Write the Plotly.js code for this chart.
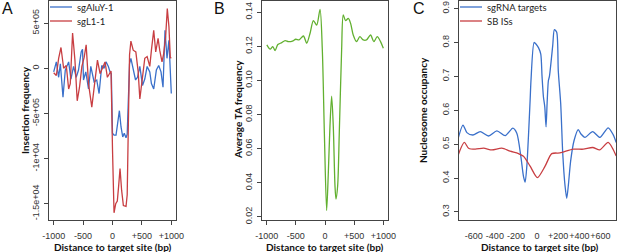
<!DOCTYPE html>
<html><head><meta charset="utf-8">
<script src="https://cdn.plot.ly/plotly-3.0.1.min.js"></script>
<style>html,body{margin:0;padding:0;background:#fff}#chart{width:617px;height:252px}</style>
</head><body><div id="chart"></div>
<script>
// Panel A: insertion frequency
const aluX = [-1000,-955,-916,-887,-842,-803,-746,-707,-662,-617,-578,-532,-510,-493,-454,-408,-369,-313,-268,-228,-183,-144,-110,-70,-42,-20,0,26,60,90,117,145,174,200,230,250,270,290,313,352,392,425,465,510,549,589,634,662,701,746,786,825,859,893,927,960,1000];
const aluY = [-0.4,0.7,-1.0,0.5,-3.2,-0.2,0.7,-1.2,0.2,-1.0,-0.2,1.8,2.1,-1.3,-0.4,-2.3,0.2,-1.5,-1.3,-2.8,0.3,0,0.7,0.2,-0.4,-0.6,-7.2,-7.4,-7.4,-6.0,-4.7,-6.5,-7.6,-7.2,-7.7,-7.3,-3.0,0.5,1.1,-0.2,-1.3,-1.0,0.2,-1.9,-1.2,0.2,-0.4,-1.7,-2.3,-0.2,0.3,-0.4,-2.1,4.2,1.1,3.1,-2.8];
const l1X = [-1000,-955,-916,-876,-831,-786,-746,-718,-679,-639,-600,-561,-521,-482,-448,-408,-352,-307,-256,-211,-166,-127,-87,-42,-25,0,26,55,82,105,128,155,185,230,250,270,290,313,352,397,437,465,510,549,589,634,662,701,735,775,803,842,870,904,932,960,983,1000];
const l1Y = [-0.5,-0.8,1.1,2.3,0,0.3,-2.3,-1.7,3.9,0.9,-3.6,-2.1,0.2,1.2,2.6,-1.7,-4.3,-1.7,0.9,-0.6,0.2,0.7,-1.0,-0.4,-0.3,-9,-16.0,-15.0,-14.7,-13.0,-11.1,-13.5,-15.2,-15.3,-14.0,-6.0,1.5,3.0,2.0,1.8,-0.4,-3.4,-0.8,1.1,1.3,0.2,2.0,4.2,1.8,3.3,2.0,0.7,1.6,3.5,6.6,4.6,1.2,1.1];
const aYTickVals = [5,0,-5,-10,-15];
const aYTickText = ["5e+05","0","-5e+05","-1e+04","-1.5e+04"];

// Panel B: average TA frequency
const taX = [-997,-940,-895,-855,-809,-741,-684,-627,-558,-501,-444,-370,-313,-256,-199,-142,-85,-46,-11,28,57,85,114,142,171,188,217,245,285,313,353,399,439,484,541,598,655,712,781,838,895,952,1000];
const taY = [0.1208,0.1183,0.1198,0.1175,0.121,0.1221,0.1233,0.1227,0.123,0.1241,0.1237,0.126,0.1218,0.1276,0.135,0.1324,0.1416,0.1179,0.0693,0.0237,0.046,0.0732,0.0907,0.0732,0.0383,0.0305,0.0383,0.0693,0.1179,0.1383,0.135,0.1363,0.1334,0.1266,0.1227,0.1256,0.1237,0.1237,0.1266,0.1227,0.1256,0.1227,0.1188];
const bYTickVals = [0.02,0.04,0.06,0.08,0.10,0.12,0.14];
const bYTickText = ["0.02","0.04","0.06","0.08","0.10","0.12","0.14"];

// Panel C: nucleosome occupancy
const sgX = [-750,-702,-665,-608,-539,-460,-381,-302,-230,-192,-154,-129,-113,-97,-82,-66,-57,-28,-9,13,35,47,60,73,85,95,107,117,148,164,186,201,224,243,265,281,296,318,350,390,416,454,527,595,674,721,750];
const sgY = [0.515,0.556,0.534,0.527,0.537,0.524,0.539,0.525,0.547,0.532,0.464,0.405,0.388,0.435,0.522,0.629,0.692,0.80,0.795,0.785,0.766,0.70,0.64,0.61,0.551,0.62,0.687,0.70,0.79,0.838,0.83,0.716,0.619,0.474,0.377,0.340,0.377,0.45,0.51,0.543,0.53,0.52,0.537,0.52,0.548,0.528,0.505];
const sbX = [-750,-690,-649,-586,-507,-428,-334,-255,-177,-129,-66,3,76,139,217,343,438,527,595,674,750];
const sbY = [0.466,0.505,0.488,0.485,0.488,0.483,0.488,0.479,0.472,0.464,0.435,0.401,0.435,0.472,0.474,0.485,0.485,0.490,0.483,0.505,0.465];
const cYTickVals = [0.3,0.4,0.5,0.6,0.7,0.8,0.9];
const cYTickText = ["0.3","0.4","0.5","0.6","0.7","0.8","0.9"];

const abXTickVals = [-1000,-500,0,500,1000];
const abXTickText = ["-1000","-500","0","+500","+1000"];
const cXTickVals = [-600,-400,-200,0,200,400,600];
const cXTickText = ["-600","-400","-200","0","+200","+400","+600"];

const legendA = ["sgAluY-1","sgL1-1"];
const legendC = ["sgRNA targets","SB ISs"];
const yTitles = ["Insertion frequency","Average TA frequency","Nucleosome occupancy"];
const xTitle = "Distance to target site (bp)";
const panelLetters = ["A","B","C"];

const BLUE = "rgb(58,112,202)", RED = "rgb(200,62,66)", GREEN = "rgb(98,176,48)";
const W = 617, H = 252;
const PX = x => x / W, PY = y => 1 - y / H;

const traces = [
  {x: aluX, y: aluY, xaxis: "x", yaxis: "y", mode: "lines", line: {color: BLUE, width: 1.3}},
  {x: l1X, y: l1Y, xaxis: "x", yaxis: "y", mode: "lines", line: {color: RED, width: 1.3}},
  {x: taX, y: taY, xaxis: "x2", yaxis: "y2", mode: "lines", line: {color: GREEN, width: 1.3, shape: "spline", smoothing: 0.8}},
  {x: sgX, y: sgY, xaxis: "x3", yaxis: "y3", mode: "lines", line: {color: BLUE, width: 1.3, shape: "spline", smoothing: 0.7}},
  {x: sbX, y: sbY, xaxis: "x3", yaxis: "y3", mode: "lines", line: {color: RED, width: 1.3, shape: "spline", smoothing: 0.7}}
];

const tickFont = {family: "Liberation Sans, Arial, sans-serif", size: 9, color: "#333"};
const base = {showline: true, mirror: true, linecolor: "#444", linewidth: 1, ticks: "outside", ticklen: 4,
  tickcolor: "#444", tickwidth: 1, showgrid: false, zeroline: false, tickfont: tickFont, tickmode: "array"};
const yDom = [1 - 220 / H, 1 - 0.5 / H];

const layout = {
  width: W, height: H, margin: {l: 0, r: 0, t: 0, b: 0}, showlegend: false,
  paper_bgcolor: "#fff", plot_bgcolor: "#fff",
  font: {family: "Liberation Sans, Arial, sans-serif"},
  xaxis: Object.assign({}, base, {domain: [PX(49), PX(176)], range: [-1080, 1080], tickvals: abXTickVals, ticktext: abXTickText, anchor: "y", tickangle: 0, ticklabelstandoff: 3}),
  yaxis: Object.assign({}, base, {domain: yDom, range: [-16.8, 7.5], tickvals: aYTickVals, ticktext: aYTickText, tickangle: -90, anchor: "x", ticklabelstandoff: 1}),
  xaxis2: Object.assign({}, base, {domain: [PX(262), PX(388)], range: [-1080, 1080], tickvals: abXTickVals, ticktext: abXTickText, anchor: "y2", tickangle: 0, ticklabelstandoff: 3}),
  yaxis2: Object.assign({}, base, {domain: yDom, range: [0.0182, 0.1468], tickvals: bYTickVals, ticktext: bYTickText, tickangle: -90, anchor: "x2", ticklabelstandoff: 1}),
  xaxis3: Object.assign({}, base, {domain: [PX(459), PX(616)], range: [-740, 748], tickvals: cXTickVals, ticktext: cXTickText, anchor: "y3", ticks: "", tickangle: 0, ticklabelstandoff: 7}),
  yaxis3: Object.assign({}, base, {domain: yDom, range: [0.276, 0.924], tickvals: cYTickVals, ticktext: cYTickText, tickangle: -90, anchor: "x3", ticklabelstandoff: 1}),
  shapes: [], annotations: []
};

const titleFont = {family: "Lato, Liberation Sans, sans-serif", size: 10, color: "#111", weight: 700};
// axis titles
[[112.5, 25], [325, 238], [540, 423]].forEach(([xc, yt], i) => {
  layout.annotations.push({xref: "paper", yref: "paper", x: PX(xc), y: PY(247), text: "<b>" + xTitle + "</b>", showarrow: false, xanchor: "center", yanchor: "middle", font: titleFont});
  layout.annotations.push({xref: "paper", yref: "paper", x: PX(yt), y: PY(110), text: "<b>" + yTitles[i] + "</b>", showarrow: false, textangle: -90, xanchor: "center", yanchor: "middle", font: titleFont});
});
// panel letters
[[7, 9], [219, 9], [419, 9]].forEach(([x, y], i) => {
  layout.annotations.push({xref: "paper", yref: "paper", x: PX(x), y: PY(y), text: panelLetters[i], showarrow: false, xanchor: "center", yanchor: "middle", font: {family: "Liberation Sans, Arial, sans-serif", size: 16, color: "#111"}});
});
// legends
const legFont = {family: "Lato, Liberation Sans, sans-serif", size: 9.5, color: "#222"};
[[50, legendA, [BLUE, RED]], [460, legendC, [BLUE, RED]]].forEach(([x0, labels, cols]) => {
  [7, 21].forEach((yy, j) => {
    layout.shapes.push({type: "line", xref: "paper", yref: "paper", x0: PX(x0), x1: PX(x0 + 22), y0: PY(yy), y1: PY(yy), line: {color: cols[j], width: 1.3}});
    layout.annotations.push({xref: "paper", yref: "paper", x: PX(x0 + 25), y: PY(yy), text: labels[j], showarrow: false, xanchor: "left", yanchor: "middle", font: legFont});
  });
});

Plotly.newPlot("chart", traces, layout, {staticPlot: true, displayModeBar: false});
</script></body></html>
